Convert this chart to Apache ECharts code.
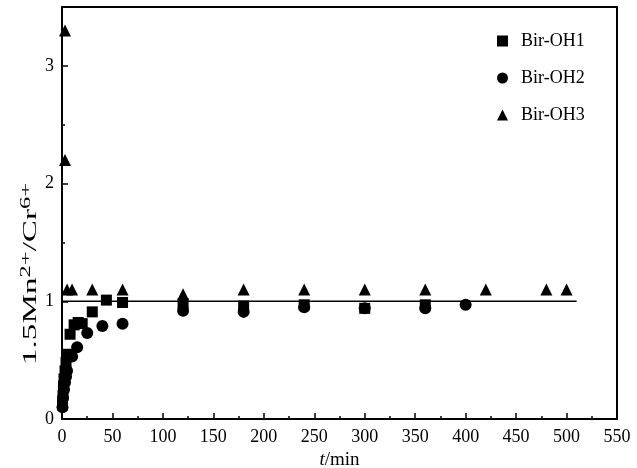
<!DOCTYPE html>
<html>
<head>
<meta charset="utf-8">
<script src="https://cdn.jsdelivr.net/npm/echarts@6/dist/echarts.min.js"></script>
<style>
    html, body { margin: 0; padding: 0; background: #fff; }
    #main { width: 637px; height: 468px; }
</style>
</head>
<body>
<div id="main"></div>
<script>
// [t/min, 1.5Mn2+/Cr6+]
const birOH1 = [
    [0.5, 0.12], [1, 0.2], [1.5, 0.28], [2, 0.34], [3, 0.41], [4, 0.48], [5, 0.55],
    [8, 0.72], [12, 0.8], [16, 0.82], [20, 0.81], [30, 0.91], [44, 1.01], [60, 0.99],
    [120, 0.98], [180, 0.96], [240, 0.97], [300, 0.94], [360, 0.97]
];
const birOH2 = [
    [0.5, 0.1], [1, 0.18], [2, 0.25], [3, 0.31], [4, 0.36], [5, 0.41],
    [10, 0.53], [15, 0.61], [25, 0.73], [40, 0.79], [60, 0.81],
    [120, 0.92], [180, 0.91], [240, 0.95], [300, 0.94], [360, 0.94], [400, 0.97]
];
const birOH3 = [
    [3, 3.3], [3, 2.2], [5, 1.1], [10, 1.1], [30, 1.1], [60, 1.1], [120, 1.06],
    [180, 1.1], [240, 1.1], [300, 1.1], [360, 1.1], [420, 1.1], [480, 1.1], [500, 1.1]
];
const refLine = [[0, 1], [510, 1]];

const font = 'Liberation Serif';

let myChart = echarts.init(document.getElementById('main'));
myChart.setOption({
    animation: false,
    textStyle: { fontFamily: font, color: '#000' },
    grid: {
        left: 62, right: 20, top: 7, bottom: 49,
        outerBoundsMode: 'none',
        containLabel: false,
        show: true, borderColor: '#000', borderWidth: 2
    },
    // y-axis title, drawn stretched along its baseline like the original
    graphic: [{
        type: 'text',
        x: 31,
        y: 274,
        rotation: Math.PI / 2,
        scaleX: 1.75,
        style: {
            text: '1.5Mn{sup|2+}/Cr{sup|6+}',
            fontFamily: font,
            fontSize: 19,
            fill: '#000',
            align: 'center',
            verticalAlign: 'middle',
            rich: {
                sup: { fontFamily: font, fontSize: 14, fill: '#000', verticalAlign: 'bottom', padding: [0, 0, 10, 0] }
            }
        }
    }],
    legend: {
        orient: 'vertical',
        left: 492,
        top: 27,
        itemGap: 19,
        itemWidth: 11,
        itemHeight: 11,
        textStyle: { fontFamily: font, fontSize: 18, color: '#000', padding: [0, 0, 0, 8] },
        data: [
            { name: 'Bir-OH1', icon: 'rect' },
            { name: 'Bir-OH2', icon: 'circle' },
            { name: 'Bir-OH3', icon: 'triangle' }
        ]
    },
    xAxis: {
        type: 'value',
        min: 0, max: 550, interval: 50,
        name: '{i|t}/min',
        nameLocation: 'middle',
        nameGap: 22,
        nameTextStyle: {
            fontFamily: font, fontSize: 19, color: '#000',
            rich: { i: { fontFamily: font, fontStyle: 'italic', fontSize: 19, color: '#000' } }
        },
        axisLine: { lineStyle: { color: '#000', width: 2 } },
        axisTick: { inside: true, length: 6, lineStyle: { color: '#000', width: 1.5 } },
        minorTick: { show: true, splitNumber: 2, length: 3, lineStyle: { color: '#000', width: 1.5 } },
        axisLabel: { fontFamily: font, fontSize: 18, color: '#000', margin: 9 },
        splitLine: { show: false }
    },
    yAxis: [
        {
            type: 'value',
            min: 0, max: 3.5, interval: 1,
            axisLine: { lineStyle: { color: '#000', width: 2 } },
            axisTick: { inside: true, length: 6, lineStyle: { color: '#000', width: 1.5 } },
            axisLabel: {
                fontFamily: font, fontSize: 18, color: '#000', margin: 8,
                formatter: v => (Number.isInteger(v) ? String(v) : '')
            },
            splitLine: { show: false }
        },
        {
            type: 'value',
            min: 0, max: 3.5, interval: 0.5,
            position: 'left',
            axisLine: { show: false },
            axisTick: { inside: true, length: 3, lineStyle: { color: '#000', width: 1.5 } },
            axisLabel: { show: false },
            splitLine: { show: false }
        }
    ],
    series: [
        {
            name: 'Bir-OH1',
            type: 'scatter',
            symbol: 'rect',
            symbolSize: 11,
            itemStyle: { color: '#000', opacity: 1 },
            data: birOH1
        },
        {
            name: 'Bir-OH2',
            type: 'scatter',
            symbol: 'circle',
            symbolSize: 12,
            itemStyle: { color: '#000', opacity: 1 },
            data: birOH2
        },
        {
            name: 'Bir-OH3',
            type: 'scatter',
            symbol: 'triangle',
            symbolSize: 12,
            itemStyle: { color: '#000', opacity: 1 },
            data: birOH3
        },
        {
            name: 'ref',
            type: 'line',
            symbol: 'none',
            lineStyle: { color: '#000', width: 1.5 },
            data: refLine,
            z: 3
        }
    ]
});
</script>
</body>
</html>
